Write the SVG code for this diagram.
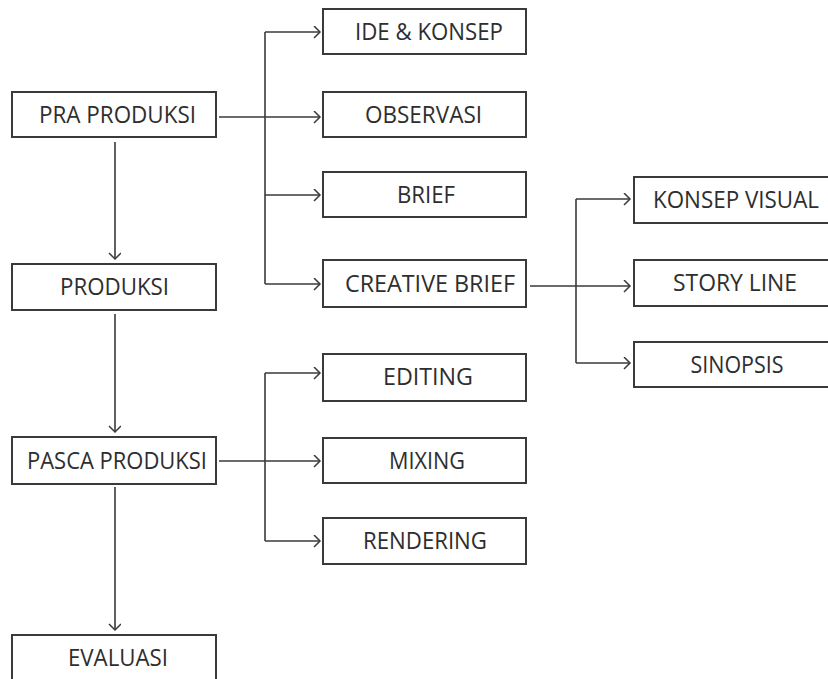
<svg xmlns="http://www.w3.org/2000/svg" width="828" height="679" viewBox="0 0 828 679">
<defs>
<style>
.box{fill:#fff;stroke:#3a3a3a;stroke-width:2}
.lbl{font-family:"Open Sans","DejaVu Sans",sans-serif;font-size:24px;fill:#2e2e2e;text-anchor:middle}
.ln{fill:none;stroke:#3a3a3a;stroke-width:1.6}
</style>
<marker id="ah" markerUnits="userSpaceOnUse" markerWidth="10" markerHeight="14" refX="8" refY="6" orient="auto" viewBox="0 0 10 14">
<path d="M2,0 L8,6 L2,12" fill="none" stroke="#3a3a3a" stroke-width="1.5"/>
</marker>
</defs>
<rect width="828" height="679" fill="#fff"/>
<g id="connectors">
<path class="ln" d="M115 142 V259" marker-end="url(#ah)"/>
<path class="ln" d="M115 314 V432" marker-end="url(#ah)"/>
<path class="ln" d="M115 487 V630" marker-end="url(#ah)"/>
<path class="ln" d="M219 117 H320" marker-end="url(#ah)"/>
<path class="ln" d="M265 32 V284"/>
<path class="ln" d="M265 32 H320" marker-end="url(#ah)"/>
<path class="ln" d="M265 195 H320" marker-end="url(#ah)"/>
<path class="ln" d="M265 284 H320" marker-end="url(#ah)"/>
<path class="ln" d="M530 286 H630" marker-end="url(#ah)"/>
<path class="ln" d="M576 199 V363"/>
<path class="ln" d="M576 199 H630" marker-end="url(#ah)"/>
<path class="ln" d="M576 363 H630" marker-end="url(#ah)"/>
<path class="ln" d="M219 461 H320" marker-end="url(#ah)"/>
<path class="ln" d="M265 373 V541"/>
<path class="ln" d="M265 373 H320" marker-end="url(#ah)"/>
<path class="ln" d="M265 541 H320" marker-end="url(#ah)"/>
</g>
<g id="pra-produksi"><rect class="box" x="12" y="92" width="204" height="45"/><text class="lbl" x="117.5" y="123" textLength="157" lengthAdjust="spacingAndGlyphs">PRA PRODUKSI</text></g>
<g id="produksi"><rect class="box" x="12" y="264" width="204" height="46"/><text class="lbl" x="114.5" y="295" textLength="109" lengthAdjust="spacingAndGlyphs">PRODUKSI</text></g>
<g id="pasca-produksi"><rect class="box" x="12" y="437" width="204" height="47"/><text class="lbl" x="117" y="469" textLength="180" lengthAdjust="spacingAndGlyphs">PASCA PRODUKSI</text></g>
<g id="evaluasi"><rect class="box" x="12" y="635" width="204" height="60"/><text class="lbl" x="118" y="666" textLength="100" lengthAdjust="spacingAndGlyphs">EVALUASI</text></g>
<g id="ide-konsep"><rect class="box" x="323" y="9" width="203" height="45"/><text class="lbl" x="429" y="40" textLength="148" lengthAdjust="spacingAndGlyphs">IDE &amp; KONSEP</text></g>
<g id="observasi"><rect class="box" x="323" y="92" width="203" height="45"/><text class="lbl" x="423.5" y="123" textLength="117" lengthAdjust="spacingAndGlyphs">OBSERVASI</text></g>
<g id="brief"><rect class="box" x="323" y="172" width="203" height="45"/><text class="lbl" x="426" y="203" textLength="58" lengthAdjust="spacingAndGlyphs">BRIEF</text></g>
<g id="creative-brief"><rect class="box" x="323" y="260" width="203" height="47"/><text class="lbl" x="430" y="292" textLength="170" lengthAdjust="spacingAndGlyphs">CREATIVE BRIEF</text></g>
<g id="konsep-visual"><rect class="box" x="634" y="177" width="195" height="46"/><text class="lbl" x="736" y="208" textLength="166" lengthAdjust="spacingAndGlyphs">KONSEP VISUAL</text></g>
<g id="story-line"><rect class="box" x="634" y="260" width="195" height="46"/><text class="lbl" x="735" y="291" textLength="124" lengthAdjust="spacingAndGlyphs">STORY LINE</text></g>
<g id="sinopsis"><rect class="box" x="634" y="342" width="195" height="45"/><text class="lbl" x="737" y="373" textLength="93" lengthAdjust="spacingAndGlyphs">SINOPSIS</text></g>
<g id="editing"><rect class="box" x="323" y="354" width="203" height="47"/><text class="lbl" x="428" y="385" textLength="90" lengthAdjust="spacingAndGlyphs">EDITING</text></g>
<g id="mixing"><rect class="box" x="323" y="438" width="203" height="45"/><text class="lbl" x="427" y="469" textLength="76" lengthAdjust="spacingAndGlyphs">MIXING</text></g>
<g id="rendering"><rect class="box" x="323" y="518" width="203" height="46"/><text class="lbl" x="425" y="549" textLength="124" lengthAdjust="spacingAndGlyphs">RENDERING</text></g>
</svg>
